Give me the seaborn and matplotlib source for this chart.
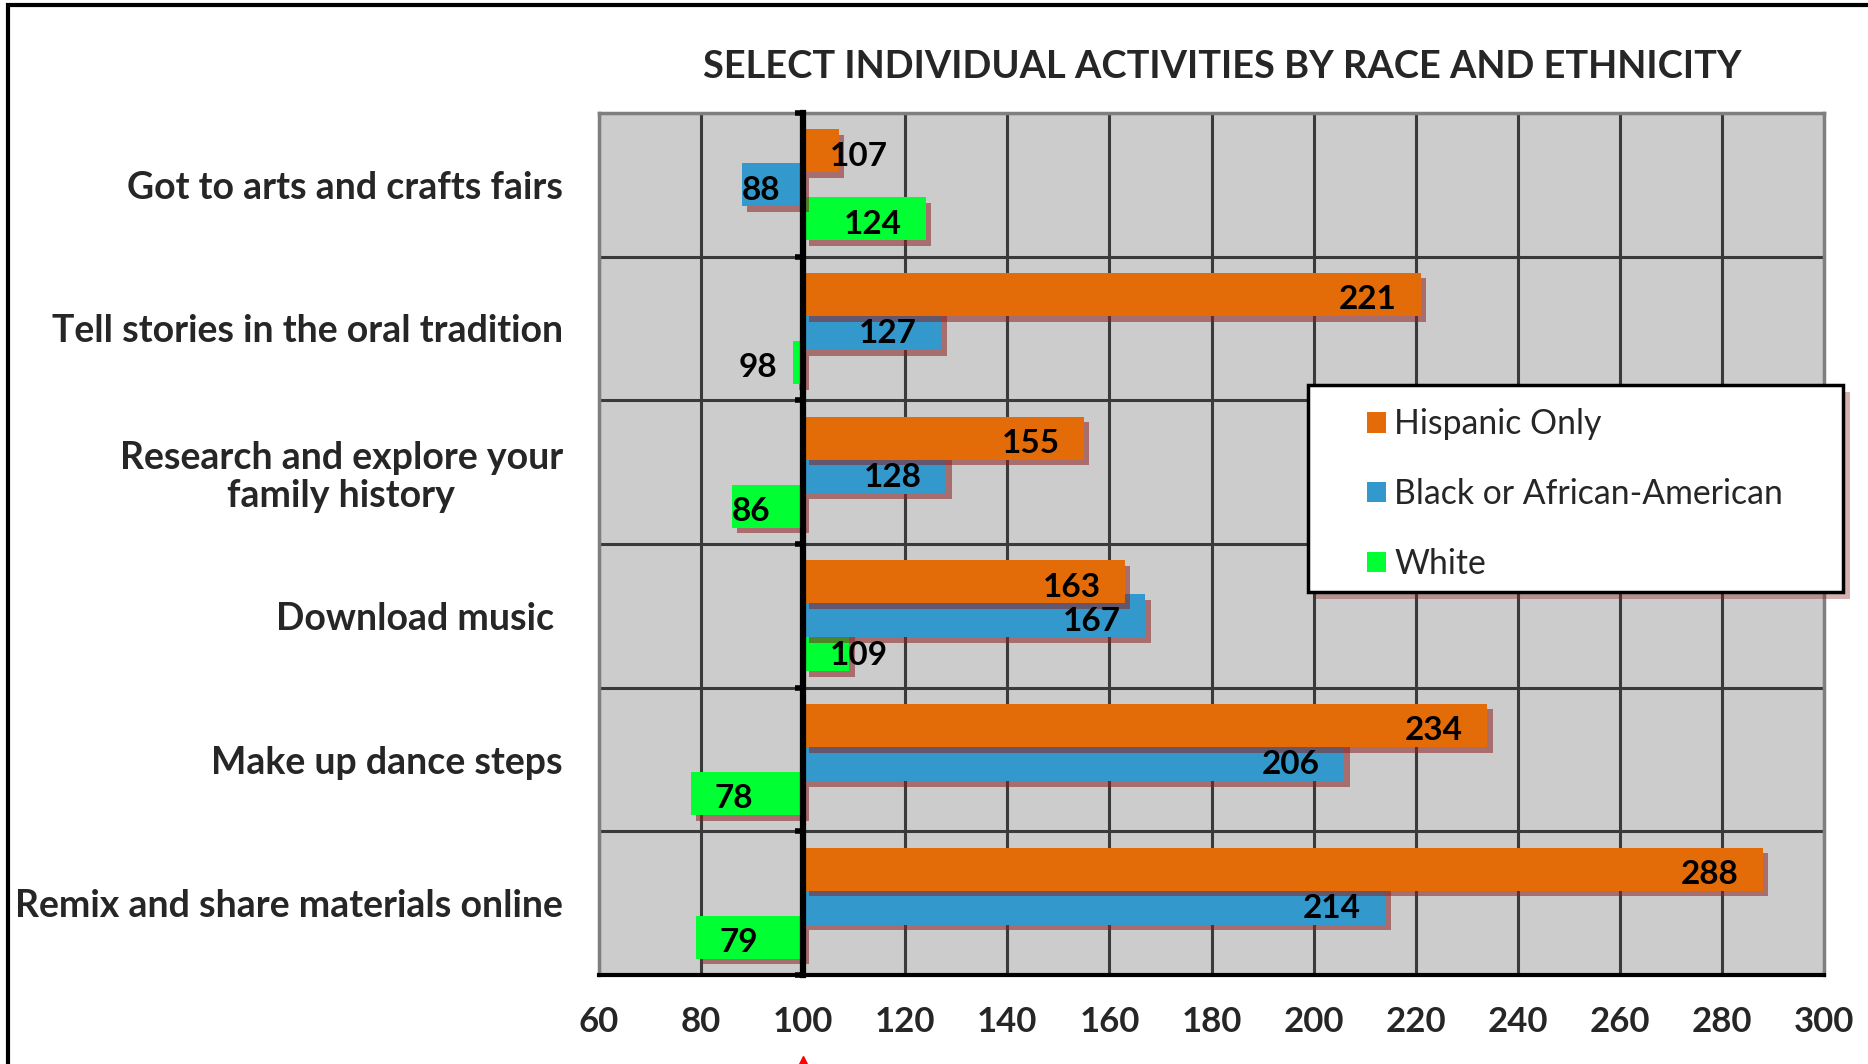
import numpy as np
import pandas as pd
import matplotlib
matplotlib.use("Agg")
import matplotlib.pyplot as plt
import matplotlib.patheffects as pe
import matplotlib.transforms as mtransforms
from matplotlib.patches import Patch, Rectangle
import seaborn as sns

# ============================
# =========== DATA ===========
# ============================

title = "SELECT INDIVIDUAL ACTIVITIES BY RACE AND ETHNICITY"
activities = [
    "Got to arts and crafts fairs",
    "Tell stories in the oral tradition",
    "Research and explore your\nfamily history",
    "Download music ",
    "Make up dance steps",
    "Remix and share materials online",
]
groups = ["Hispanic Only", "Black or African-American", "White"]
hispanic = [107, 221, 155, 163, 234, 288]
black = [88, 127, 128, 167, 206, 214]
white = [124, 98, 86, 109, 78, 79]
x_ticks = [60, 80, 100, 120, 140, 160, 180, 200, 220, 240, 260, 280, 300]
baseline = 100

colors = ["#E36C09", "#3399CC", "#00FF33"]
shadow_color = "#8B2020"

# ============================
# ========== FIGURE ==========
# ============================

sns.set_theme(style="white")
plt.rcParams["font.family"] = ["Lato", "DejaVu Sans"]

rows = []
for grp, vals in zip(groups, [hispanic, black, white]):
    for act, v in zip(activities, vals):
        rows.append({"activity": act, "group": grp, "value": v, "offset": v - baseline})
df = pd.DataFrame(rows)

W, H = 1868, 1064
fig = plt.figure(figsize=(W / 100, H / 100), dpi=100)
fig.patch.set_facecolor("white")
ax = fig.add_axes([599 / W, 1 - 975 / H, (1824 - 599) / W, (975 - 113) / H])
ax.set_facecolor("#CCCCCC")

# bars start at the baseline (100), so the seaborn widths are the offsets
sns.barplot(
    data=df, y="activity", x="offset", hue="group", order=activities,
    hue_order=groups, palette=colors, orient="h", width=0.71, gap=-0.27,
    left=baseline, errorbar=None, saturation=1, legend=False, ax=ax,
)

shadow = [pe.SimplePatchShadow(offset=(4, -4), shadow_rgbFace=shadow_color, alpha=0.55), pe.Normal()]
for z, cont in zip([4, 3, 2], ax.containers):
    for bar in cont:
        bar.set_zorder(z)
        bar.set_edgecolor("none")
        bar.set_path_effects(shadow)

# data labels
for cont, vals in zip(ax.containers, [hispanic, black, white]):
    for bar, v in zip(cont, vals):
        yc = bar.get_y() + bar.get_height() / 2 + 0.02
        d = v - baseline
        if d >= 12:
            x, ha = v - 4.7, "right"
        elif d > 0:
            x, ha = baseline + 5.3, "left"
        elif d > -3:
            x, ha = v - 3, "right"
        elif d > -15:
            x, ha = v, "left"
        else:
            x, ha = v + 4.7, "left"
        ax.text(x, yc, str(v), ha=ha, va="center_baseline", fontsize=24,
                fontweight="bold", color="black", zorder=7)

ax.set_xlim(x_ticks[0], x_ticks[-1])
ax.set_ylim(len(activities) - 0.5, -0.5)
ax.set_xlabel("")
ax.set_ylabel("")

# grid
ax.set_axisbelow(True)
ax.set_xticks(x_ticks)
ax.set_yticks(np.arange(-0.5, len(activities)), minor=True)
ax.grid(which="major", axis="x", color="#3A3A3A", lw=2.2)
ax.grid(which="minor", axis="y", color="#3A3A3A", lw=2.2)
ax.grid(which="major", axis="y", visible=False)

ax.tick_params(axis="y", which="both", length=0, pad=26)
ax.tick_params(axis="x", direction="out", length=8, width=2.5, color="black",
               pad=14, labelsize=25)
for lab in ax.get_xticklabels():
    lab.set_fontweight("bold")
for lab in ax.get_yticklabels():
    lab.set_fontsize(27)
    lab.set_fontweight("bold")
    lab.set_multialignment("center")
    lab.set_linespacing(1.12)

for side in ["left", "top", "right"]:
    ax.spines[side].set_color("#7F7F7F")
    ax.spines[side].set_linewidth(2.5)
ax.spines["bottom"].set_color("black")
ax.spines["bottom"].set_linewidth(3)

# axis crossing at 100
sec = ax.secondary_yaxis((baseline - x_ticks[0]) / (x_ticks[-1] - x_ticks[0]))
sec.set_yticks(np.arange(-0.5, len(activities)))
sec.tick_params(axis="y", direction="out", length=6, width=4, color="black",
                labelleft=False, labelright=False)
sec.spines["left"].set_linewidth(4.5)
sec.spines["left"].set_color("black")
sec.set_zorder(6)

# title
fig.text(1222 / W, 1 - 67 / H, title, ha="center", va="center",
         fontsize=27.4, fontweight="bold")

# legend with its own box and shadow
box = Rectangle((1308 / W, 1 - 592 / H), (1843 - 1308) / W, (592 - 385) / H,
                transform=fig.transFigure, facecolor="white", edgecolor="black",
                lw=2.5, zorder=4)
box.set_path_effects([pe.SimplePatchShadow(offset=(5, -5), shadow_rgbFace=shadow_color, alpha=0.35), pe.Normal()])
fig.add_artist(box)
handles = [Patch(facecolor=c, edgecolor="none") for c in colors]
fig.legend(handles, groups, loc="center left", bbox_to_anchor=(1367 / W, 1 - 494 / H),
           frameon=False, fontsize=24.3, labelspacing=1.12, borderpad=0,
           borderaxespad=0, handlelength=0.56, handleheight=0.56, handletextpad=0.25)

# red marker under the 100 label
trans = mtransforms.blended_transform_factory(ax.transData, fig.transFigure)
ax.plot([baseline], [0.0], marker="^", color="red", markersize=12,
        transform=trans, clip_on=False, zorder=8)

# outer frame (top and left edges visible)
frame = Rectangle((8 / W, -0.2), 1.5, 1.2 - 5 / H, transform=fig.transFigure,
                  fill=False, edgecolor="black", lw=3, zorder=10)
fig.add_artist(frame)

fig.savefig("out.png", dpi=100)
